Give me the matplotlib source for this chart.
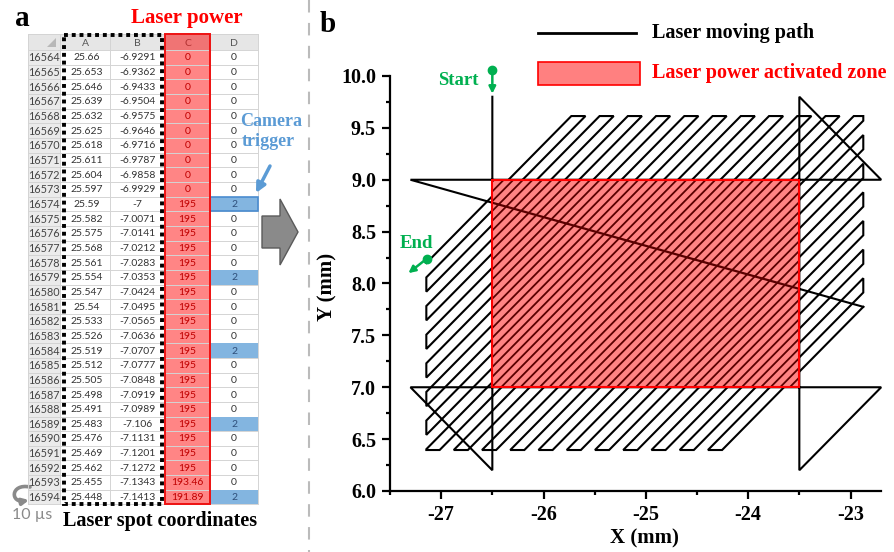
import numpy as np
import matplotlib
matplotlib.use('Agg')
import matplotlib.pyplot as plt
from matplotlib.patches import Rectangle, Polygon, FancyArrowPatch
from matplotlib.collections import LineCollection
from matplotlib.path import Path
from matplotlib.ticker import AutoMinorLocator, FormatStrFormatter

plt.rcParams['axes.unicode_minus'] = False
plt.rcParams['path.simplify'] = False
SERIF = 'Liberation Serif'
SANS = 'Lato'

# ---------------- panel a data (spreadsheet) ----------------
row_ids = list(range(16564, 16595))
col_a = ['25.66', '25.653', '25.646', '25.639', '25.632', '25.625', '25.618', '25.611',
         '25.604', '25.597', '25.59', '25.582', '25.575', '25.568', '25.561', '25.554',
         '25.547', '25.54', '25.533', '25.526', '25.519', '25.512', '25.505', '25.498',
         '25.491', '25.483', '25.476', '25.469', '25.462', '25.455', '25.448']
col_b = ['-6.9291', '-6.9362', '-6.9433', '-6.9504', '-6.9575', '-6.9646', '-6.9716',
         '-6.9787', '-6.9858', '-6.9929', '-7', '-7.0071', '-7.0141', '-7.0212', '-7.0283',
         '-7.0353', '-7.0424', '-7.0495', '-7.0565', '-7.0636', '-7.0707', '-7.0777',
         '-7.0848', '-7.0919', '-7.0989', '-7.106', '-7.1131', '-7.1201', '-7.1272',
         '-7.1343', '-7.1413']
col_c = ['0'] * 10 + ['195'] * 19 + ['193.46', '191.89']
col_d = ['0', '0', '0', '0', '0', '0', '0', '0', '0', '0', '2', '0', '0', '0', '0', '2',
         '0', '0', '0', '0', '2', '0', '0', '0', '0', '2', '0', '0', '0', '0', '2']
col_letters = ['A', 'B', 'C', 'D']

# ---------------- panel b data (laser path) ----------------
pre_x = [-26.5, -26.5, -27.3, -22.7, -23.5, -23.5, -22.7, -27.3]
pre_y = [9.8, 6.2, 7.0, 7.0, 6.2, 9.8, 9.0, 9.0]
hatch_box = (-27.145, -22.875, 6.395, 9.614)   # x0, x1, y0, y1
hatch_c = [30.65, 30.788, 30.926, 31.064, 31.202, 31.34, 31.478, 31.616, 31.754,
           31.892, 32.03, 32.168, 32.306, 32.444, 32.582, 32.72, 32.858, 32.996,
           33.134, 33.272, 33.41, 33.548, 33.686, 33.824, 33.962, 34.1, 34.238,
           34.376, 34.514, 34.652, 34.79, 34.928, 35.066, 35.204, 35.342]
zone = (-26.5, 7.0, 3.0, 2.0)
xticks = [-27, -26, -25, -24, -23]
yticks = [6.0, 6.5, 7.0, 7.5, 8.0, 8.5, 9.0, 9.5, 10.0]
start_pt = (-26.5, 10.06)
end_pt = (-27.14, 8.24)

GREEN = '#00b050'
BLUE = '#5b9bd5'
MAROON = '#5a0000'
ZONE_PATTERN_STEP = 0.094   # fill-pattern spacing (style)

fig = plt.figure(figsize=(8.94, 5.52), dpi=100)

# ---------- panel b axes ----------
ax = fig.add_axes([390 / 894, (552 - 491) / 552, (881.2 - 390) / 894, (491 - 76) / 552])
ax.patch.set_alpha(0)

X0, X1, Y0, Y1 = hatch_box
hx, hy = [], []
prev_end = None
corners = {frozenset('RT'): (X1, Y1), frozenset('BL'): (X0, Y0)}
for k, c in enumerate(hatch_c):
    xl = max(X0, Y0 - c)
    lo = (xl, xl + c, 'L' if xl == X0 else 'B')
    xh = min(X1, Y1 - c)
    hi = (xh, xh + c, 'R' if xh == X1 else 'T')
    a, b = (hi, lo) if k % 2 == 0 else (lo, hi)
    if prev_end is not None and prev_end[2] != a[2]:
        cx, cy = corners[frozenset(prev_end[2] + a[2])]
        hx.append(cx); hy.append(cy)
    hx += [a[0], b[0]]
    hy += [a[1], b[1]]
    prev_end = b

ax.plot(pre_x + [hx[0]], pre_y + [hy[0]], color='black', lw=1.5, clip_on=False, zorder=2,
        solid_joinstyle='miter')
ax.plot(hx, hy, color='black', lw=1.5, clip_on=False, zorder=2, solid_joinstyle='miter')

# activated zone: red fill with dark diagonal fill pattern
zx, zy, zw, zh = zone
zone_fill = Rectangle((zx, zy), zw, zh, facecolor='#ff8484', lw=0, zorder=3)
ax.add_patch(zone_fill)
segs = [[(zx - 0.1, zx - 0.1 + cc), (zx + zw + 0.1, zx + zw + 0.1 + cc)]
        for cc in np.arange(zy - zx - zw, zy + zh - zx + ZONE_PATTERN_STEP, ZONE_PATTERN_STEP)]
pattern = LineCollection(segs, colors=MAROON, linewidths=1.3, zorder=3.2)
ax.add_collection(pattern)
pattern.set_clip_path(zone_fill)
diag, = ax.plot([pre_x[-1], hx[0]], [pre_y[-1], hy[0]], color=MAROON, lw=1.6, zorder=3.3)
diag.set_clip_path(zone_fill)
ax.add_patch(Rectangle((zx, zy), zw, zh, facecolor='none', edgecolor='red', lw=1.5,
                       zorder=3.4))

ax.set_xlim(-27.5, -22.7)
ax.set_ylim(6.0, 10.0)
ax.set_xticks(xticks)
ax.set_yticks(yticks)
ax.xaxis.set_minor_locator(AutoMinorLocator(2))
ax.yaxis.set_minor_locator(AutoMinorLocator(2))
ax.yaxis.set_major_formatter(FormatStrFormatter('%.1f'))
for s in ['top', 'right']:
    ax.spines[s].set_visible(False)
for s in ['left', 'bottom']:
    ax.spines[s].set_linewidth(1.6)
ax.tick_params(which='major', direction='out', length=6, width=1.6, pad=4)
ax.tick_params(which='minor', direction='out', length=3, width=1.6)
for lab in ax.get_xticklabels() + ax.get_yticklabels():
    lab.set_fontfamily(SERIF)
    lab.set_fontweight('bold')
    lab.set_fontsize(14.5)

# Start / End markers
ax.plot([start_pt[0]], [start_pt[1]], 'o', color=GREEN, ms=6, clip_on=False, zorder=5)
ax.annotate('', xy=(start_pt[0], 9.83), xytext=start_pt,
            arrowprops=dict(arrowstyle='-|>', color=GREEN, lw=1.8, mutation_scale=10,
                            shrinkA=0, shrinkB=0), annotation_clip=False)
ax.text(-26.63, 9.96, 'Start', color=GREEN, fontfamily=SERIF, fontweight='bold',
        fontsize=13.5, ha='right', va='center', clip_on=False)
ax.plot([end_pt[0]], [end_pt[1]], 'o', color=GREEN, ms=6, clip_on=False, zorder=5)
ax.annotate('', xy=(-27.32, 8.1), xytext=end_pt,
            arrowprops=dict(arrowstyle='-|>', color=GREEN, lw=1.8, mutation_scale=10,
                            shrinkA=0, shrinkB=0), annotation_clip=False)
ax.text(-27.24, 8.39, 'End', color=GREEN, fontfamily=SERIF, fontweight='bold',
        fontsize=13.5, ha='center', va='center', clip_on=False)

# ---------- overlay in pixel coordinates ----------
ov = fig.add_axes([0, 0, 1, 1], zorder=5)
ov.set_xlim(0, 894)
ov.set_ylim(552, 0)
ov.axis('off')

ov.text(644, 538, 'X (mm)', fontfamily=SERIF, fontweight='bold', fontsize=15,
        ha='center', va='center')
ov.text(327, 287, 'Y (mm)', fontfamily=SERIF, fontweight='bold', fontsize=15,
        ha='center', va='center', rotation=90)

ov.plot([538, 636], [33, 33], color='black', lw=2)
ov.text(652, 33, 'Laser moving path', fontfamily=SERIF, fontweight='bold', fontsize=14.5,
        ha='left', va='center')
ov.add_patch(Rectangle((538, 62), 102, 23, facecolor='#ff8080', edgecolor='red', lw=1.2))
ov.text(652, 73, 'Laser power activated zone', fontfamily=SERIF, fontweight='bold',
        fontsize=14.5, color='red', ha='left', va='center')

ov.text(22, 18, 'a', fontfamily=SERIF, fontweight='bold', fontsize=21, ha='center', va='center')
ov.text(328, 24, 'b', fontfamily=SERIF, fontweight='bold', fontsize=21, ha='center', va='center')

ov.plot([309, 309], [0, 552], color='#bbbbbb', lw=1.5, ls=(0, (6, 5)))

ov.add_patch(Polygon([(262, 216), (280, 216), (280, 199), (298, 232), (280, 265),
                      (280, 248), (262, 248)], closed=True, facecolor='#8a8a8a',
                     edgecolor='#5a5a5a', lw=1))

# ---------- spreadsheet ----------
col_x = [28, 60, 110, 165, 210, 258]
head_top, head_bot = 34, 50
row_h = 14.66
n = len(row_ids)
tab_bot = head_bot + n * row_h
grid = '#d4d4d4'

ov.add_patch(Rectangle((col_x[0], head_top), col_x[-1] - col_x[0], head_bot - head_top,
                       facecolor='#e6e6e6', edgecolor='none'))
ov.add_patch(Rectangle((col_x[0], head_bot), col_x[1] - col_x[0], tab_bot - head_bot,
                       facecolor='#ebebeb', edgecolor='none'))
ov.add_patch(Polygon([(56, 38), (56, 47), (47, 47)], closed=True, facecolor='#b8b8b8',
                     edgecolor='none'))
ov.add_patch(Rectangle((col_x[3], head_bot), col_x[4] - col_x[3], tab_bot - head_bot,
                       facecolor='#ff8585', edgecolor='none'))
ov.add_patch(Rectangle((col_x[3], head_top), col_x[4] - col_x[3], head_bot - head_top,
                       facecolor='#f07474', edgecolor='none'))

for j, letter in enumerate(col_letters):
    cxm = (col_x[j + 1] + col_x[j + 2]) / 2
    ov.text(cxm, (head_top + head_bot) / 2 + 1, letter, fontfamily=SANS, fontsize=7.5,
            color='#b03030' if letter == 'C' else '#555555', ha='center', va='center')

for i in range(n):
    top = head_bot + i * row_h
    yc = top + row_h / 2 + 0.5
    if col_d[i] == '2':
        ov.add_patch(Rectangle((col_x[4], top), col_x[5] - col_x[4], row_h,
                               facecolor='#83b5e0', edgecolor='#4a8cd0' if i == 10 else 'none',
                               lw=1.2, zorder=1.5))
    ov.text(44, yc, str(row_ids[i]), fontfamily=SANS, fontsize=7.8, color='#444444',
            ha='center', va='center')
    ov.text((col_x[1] + col_x[2]) / 2 + 2, yc, col_a[i], fontfamily=SANS, fontsize=7.5,
            color='#333333', ha='center', va='center')
    ov.text((col_x[2] + col_x[3]) / 2, yc, col_b[i], fontfamily=SANS, fontsize=7.5,
            color='#333333', ha='center', va='center')
    ov.text((col_x[3] + col_x[4]) / 2, yc, col_c[i], fontfamily=SANS, fontsize=7.5,
            color='#c00000', ha='center', va='center')
    ov.text((col_x[4] + col_x[5]) / 2, yc, col_d[i], fontfamily=SANS, fontsize=7.5,
            color='#2f4f7a' if col_d[i] == '2' else '#333333', ha='center', va='center')

for i in range(n + 1):
    y = head_bot + i * row_h
    ov.plot([col_x[0], col_x[-1]], [y, y], color=grid, lw=0.7, zorder=1.2)
ov.plot([col_x[0], col_x[-1]], [head_top, head_top], color=grid, lw=0.7, zorder=1.2)
for x in col_x:
    ov.plot([x, x], [head_top, tab_bot], color=grid, lw=0.7, zorder=1.2)

ov.add_patch(Rectangle((col_x[3], head_top), col_x[4] - col_x[3], tab_bot - head_top,
                       facecolor='none', edgecolor='#ee1111', lw=1.4, zorder=3))
ov.add_patch(Rectangle((64, 35), 98, tab_bot - 35, facecolor='none', edgecolor='black',
                       lw=2.8, ls=(0, (1, 1)), zorder=3))

ov.text(187, 18, 'Laser power', fontfamily=SERIF, fontweight='bold', fontsize=15,
        color='red', ha='center', va='center')
ov.text(271, 122, 'Camera', fontfamily=SERIF, fontweight='bold', fontsize=13,
        color=BLUE, ha='center', va='center')
ov.text(268, 142, 'trigger', fontfamily=SERIF, fontweight='bold', fontsize=13,
        color=BLUE, ha='center', va='center')
ov.annotate('', xy=(256, 193), xytext=(270, 166),
            arrowprops=dict(arrowstyle='-|>', color=BLUE, lw=2.5, mutation_scale=14,
                            shrinkA=0, shrinkB=0))
ov.text(160, 521, 'Laser spot coordinates', fontfamily=SERIF, fontweight='bold',
        fontsize=14.5, ha='center', va='center')
ov.text(32, 515, '10 µs', fontfamily=SANS, fontsize=11.5, color='#8a8a8a',
        ha='center', va='center')
loop = Path([(30, 487), (10, 483), (10, 504), (29, 500)],
            [Path.MOVETO, Path.CURVE4, Path.CURVE4, Path.CURVE4])
ov.add_patch(FancyArrowPatch(path=loop, arrowstyle='-|>', mutation_scale=9,
                             color='#8a8a8a', lw=2.6))

fig.savefig('out.png', dpi=100)
